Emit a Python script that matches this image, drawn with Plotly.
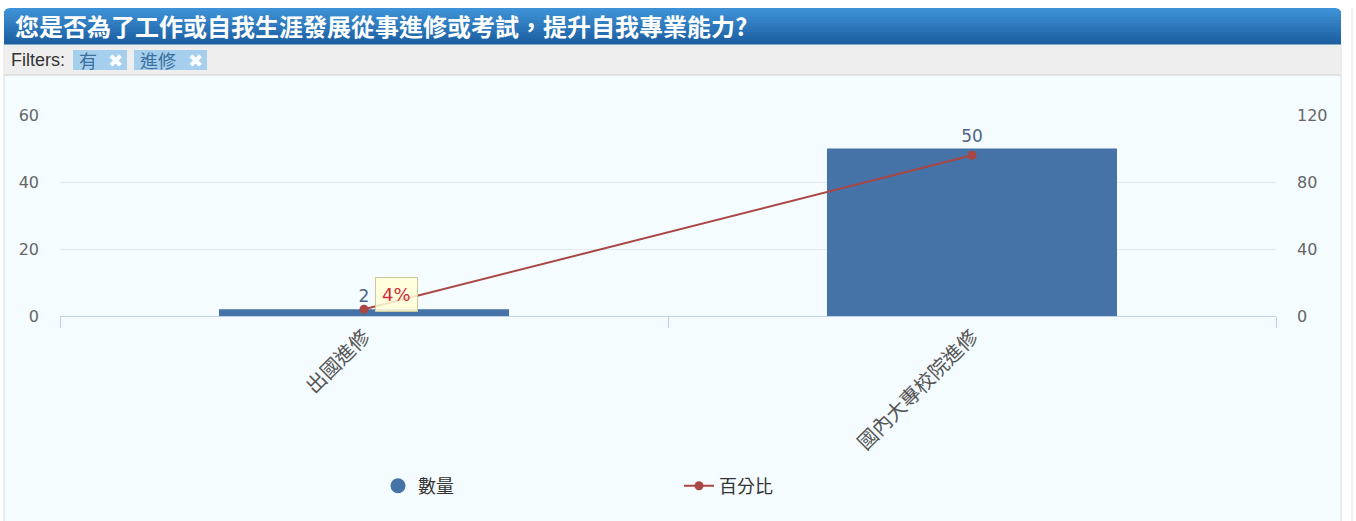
import plotly.graph_objects as go

# ---------------- data ----------------
title_text = "您是否為了工作或自我生涯發展從事進修或考試，提升自我專業能力?"
filter_labels = ["有", "進修"]
categories = ["出國進修", "國內大專校院進修"]
counts = [2, 50]
percents = [4, 96]
series_names = ["數量", "百分比"]
left_ticks = [0, 20, 40, 60]
right_ticks = [0, 40, 80, 120]

# ---------------- geometry helpers (pixel -> paper) ----------------
W, H = 1356, 521
L, R, T, B = 60, 80, 115, 205
PW = W - L - R
PH = H - T - B


def px(x):
    return (x - L) / PW


def py(y):
    return (H - B - y) / PH


BAR_C = "#4572A7"
LINE_C = "#AA4643"
FONT = "DejaVu Sans, Noto Sans CJK TC, sans-serif"
CJK = "Noto Sans CJK TC, sans-serif"

fig = go.Figure()
fig.add_trace(go.Bar(
    x=categories, y=counts, name=series_names[0], showlegend=False,
    marker=dict(color=BAR_C, line=dict(width=0)), width=0.477,
    text=[str(v) for v in counts], textposition="outside",
    textfont=dict(color="#4d6585", size=17, family=FONT),
    cliponaxis=False, hoverinfo="skip",
))
# legend entry (circle symbol like reference)
fig.add_trace(go.Scatter(
    x=[None], y=[None], mode="markers", name=series_names[0],
    marker=dict(color=BAR_C, size=15, symbol="circle"),
))
fig.add_trace(go.Scatter(
    x=categories, y=percents, yaxis="y2", name=series_names[1],
    mode="lines+markers", line=dict(color=LINE_C, width=2),
    marker=dict(color=LINE_C, size=9), cliponaxis=False,
))

shapes = []
# panel background (chart area)
shapes.append(dict(type="rect", xref="paper", yref="paper", layer="below",
                   x0=px(4), x1=px(1341), y0=py(521), y1=py(75),
                   fillcolor="#f5fcff", line=dict(width=0)))
# panel side borders
for xx in (4, 1341):
    shapes.append(dict(type="line", xref="paper", yref="paper", layer="below",
                       x0=px(xx), x1=px(xx), y0=py(521), y1=py(44),
                       line=dict(color="#d6dadd", width=1)))
shapes.append(dict(type="line", xref="paper", yref="paper", layer="below",
                   x0=px(1352), x1=px(1352), y0=py(521), y1=py(8),
                   line=dict(color="#e4e4e4", width=1)))
# filters bar
shapes.append(dict(type="rect", xref="paper", yref="paper", layer="below",
                   x0=px(4), x1=px(1341), y0=py(75), y1=py(44),
                   fillcolor="#eeeeee", line=dict(width=0)))
shapes.append(dict(type="line", xref="paper", yref="paper", layer="below",
                   x0=px(4), x1=px(1341), y0=py(75), y1=py(75),
                   line=dict(color="#d0d0d0", width=1)))
# title bar gradient
top, bot = 8, 44
c_top = (62, 145, 214)
c_bot = (28, 96, 162)
nb = 12
step = (bot - top) / nb
for i in range(nb):
    t = i / (nb - 1)
    col = tuple(int(round(c_top[k] + (c_bot[k] - c_top[k]) * t)) for k in range(3))
    y0 = top + i * step
    y1 = y0 + step + 0.6
    if i == 0:
        r = 6
        x0, x1 = 4, 1341
        path = (f"M {px(x0)},{py(y1)} L {px(x0)},{py(y0 + r)} "
                f"Q {px(x0)},{py(y0)} {px(x0 + r)},{py(y0)} "
                f"L {px(x1 - r)},{py(y0)} Q {px(x1)},{py(y0)} {px(x1)},{py(y0 + r)} "
                f"L {px(x1)},{py(y1)} Z")
        shapes.append(dict(type="path", xref="paper", yref="paper", layer="below",
                           path=path, fillcolor="rgb(%d,%d,%d)" % col, line=dict(width=0)))
    else:
        shapes.append(dict(type="rect", xref="paper", yref="paper", layer="below",
                           x0=px(4), x1=px(1341), y0=py(y1), y1=py(y0),
                           fillcolor="rgb(%d,%d,%d)" % col, line=dict(width=0)))
# filter chips
chip_x = [(73, 127), (134, 207)]
for (a, b_) in chip_x:
    shapes.append(dict(type="rect", xref="paper", yref="paper", layer="below",
                       x0=px(a), x1=px(b_), y0=py(70), y1=py(50),
                       fillcolor="#a6cfee", line=dict(width=0)))

annotations = [
    dict(text="<b>" + title_text + "</b>", xref="paper", yref="paper",
         x=px(13), y=py(26), xanchor="left", yanchor="middle", showarrow=False,
         font=dict(color="white", size=24, family=CJK)),
    dict(text="Filters:", xref="paper", yref="paper",
         x=px(9), y=py(60), xanchor="left", yanchor="middle", showarrow=False,
         font=dict(color="#333333", size=18, family="Liberation Sans, Arial")),
]
for (a, b_), lab in zip(chip_x, filter_labels):
    annotations.append(dict(text=lab, xref="paper", yref="paper",
                            x=px(a + 4), y=py(60), xanchor="left", yanchor="middle",
                            showarrow=False,
                            font=dict(color="#3a6f9e", size=18, family=CJK)))
    annotations.append(dict(text="✖", xref="paper", yref="paper",
                            x=px(b_ - 12), y=py(60), xanchor="center", yanchor="middle",
                            showarrow=False,
                            font=dict(color="white", size=18, family="DejaVu Sans")))
# tooltip-like label on first line point
annotations.append(dict(
    text=f"{percents[0]}%", x=categories[0], y=percents[0], xref="x", yref="y2",
    showarrow=False, xshift=32, yshift=15,
    font=dict(color="#cf2b3b", size=18, family=FONT),
    bgcolor="rgba(255,255,214,0.85)", bordercolor="#cdc99a", borderwidth=1, borderpad=6,
))

fig.update_layout(
    width=W, height=H,
    margin=dict(l=L, r=R, t=T, b=B, pad=0),
    paper_bgcolor="white",
    plot_bgcolor="rgba(0,0,0,0)",
    font=dict(family=FONT, color="#666666"),
    shapes=shapes,
    annotations=annotations,
    xaxis=dict(
        type="category", range=[-0.5, 1.5], tickangle=-45,
        tickfont=dict(size=20, color="#555555", family=CJK),
        ticks="outside", tickson="boundaries", ticklen=11, tickcolor="#c0d0e0",
        showline=True, linecolor="#c0d0e0", linewidth=1, showgrid=False,
        zeroline=False,
    ),
    yaxis=dict(
        range=[0, 60], tickvals=left_ticks, gridcolor="#e2eaee", gridwidth=1,
        zeroline=False, showline=False, ticks="",
        tickfont=dict(size=16, color="#666666", family=FONT),
        ticklabelstandoff=20,
    ),
    yaxis2=dict(
        range=[0, 120], tickvals=right_ticks, overlaying="y", side="right",
        showgrid=False, zeroline=False, showline=False, ticks="",
        tickfont=dict(size=16, color="#666666", family=FONT),
        ticklabelstandoff=20,
    ),
    legend=dict(
        orientation="h", x=px(378), y=py(486), xanchor="left", yanchor="middle",
        entrywidth=256, entrywidthmode="pixels", bgcolor="rgba(0,0,0,0)",
        font=dict(size=18, color="#333333", family=CJK), traceorder="normal",
    ),
    hovermode=False,
)

fig.write_html("out.html", config={"displayModeBar": False},
               post_script="document.body.style.margin='0';")
